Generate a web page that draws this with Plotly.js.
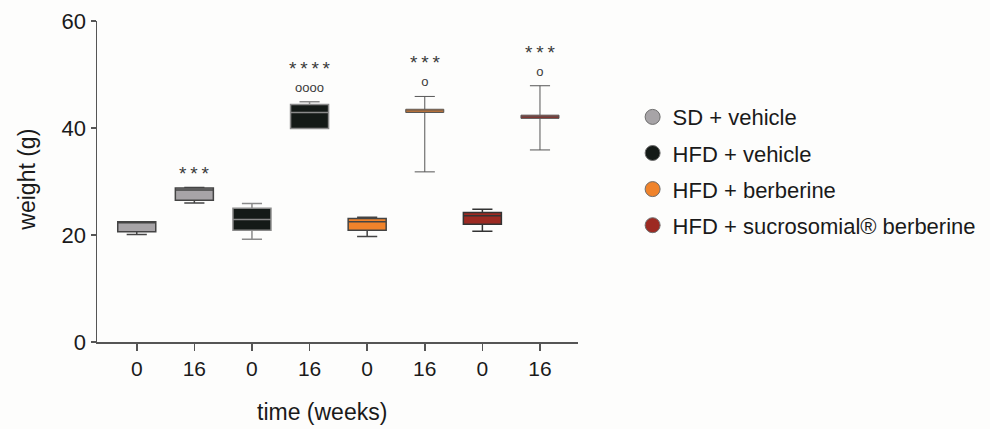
<!DOCTYPE html>
<html>
<head>
<meta charset="utf-8">
<script src="https://cdn.plot.ly/plotly-3.0.1.min.js"></script>
<style>html,body{margin:0;padding:0;background:#fdfdfc;}</style>
</head>
<body>
<div id="chart" style="width:990px;height:429px;"></div>
<script>
// ---- data ----
var groups = ["SD + vehicle", "HFD + vehicle", "HFD + berberine", "HFD + sucrosomial\u00ae berberine"];
var groupColors = ["#a7a4a7", "#141a17", "#f0832b", "#9d2a22"];
var tickLabels = ["0", "16", "0", "16", "0", "16", "0", "16"];
var boxGroup = [0, 0, 1, 1, 2, 2, 3, 3];
var lowerFence = [20.1, 26.0, 19.2, 39.9, 19.7, 31.8, 20.7, 35.9];
var q1Vals     = [20.6, 26.5, 20.9, 39.9, 20.9, 42.9, 22.0, 41.8];
var medianVals = [22.4, 28.4, 22.9, 42.9, 22.5, 43.2, 23.6, 42.1];
var q3Vals     = [22.5, 28.8, 25.0, 44.4, 23.1, 43.5, 24.2, 42.4];
var upperFence = [22.5, 28.9, 25.9, 44.9, 23.3, 45.9, 24.8, 47.9];
var starText = ["", "***", "", "****", "", "***", "", "***"];
var circText = ["", "", "", "oooo", "", "o", "", "o"];
var labelY   = [null, 31.8, null, 49.7, null, 50.8, null, 52.7];

// ---- styles ----
var outline = ["#444444", "#444444", "#8a8a8a", "#8a8a8a", "#444444", "#555555", "#333333", "#555555"];
var outlineW = [1.5, 1.5, 1.5, 1.5, 1.5, 1, 1.5, 1];
var FONT = "Liberation Sans, Arial, sans-serif";

var traces = [];
for (var i = 0; i < tickLabels.length; i++) {
  traces.push({
    type: "box",
    x: [i],
    q1: [q1Vals[i]], median: [medianVals[i]], q3: [q3Vals[i]],
    lowerfence: [lowerFence[i]], upperfence: [upperFence[i]],
    width: 0.66, whiskerwidth: 0.53,
    fillcolor: groupColors[boxGroup[i]],
    line: {color: outline[i], width: outlineW[i]},
    boxpoints: false,
    showlegend: false,
    hoverinfo: "skip"
  });
}
for (var g = 0; g < groups.length; g++) {
  traces.push({
    type: "scatter", mode: "markers",
    x: [null], y: [null],
    name: groups[g], legendgroup: "g" + g,
    marker: {symbol: "circle", size: 15, color: groupColors[g], line: {color: "#6e6e6e", width: 1}},
    showlegend: true, hoverinfo: "skip"
  });
}

var annotations = [];
for (var j = 0; j < tickLabels.length; j++) {
  if (!starText[j]) continue;
  var stars = starText[j].split("").join("\u2009");
  var txt = "<span style='font-size:19px'>" + stars + "</span>";
  if (circText[j]) txt += "<br><span style='font-size:13px'>" + circText[j] + "</span>";
  annotations.push({
    x: j, y: labelY[j], xref: "x", yref: "y", text: txt, showarrow: false,
    yanchor: "middle", yshift: circText[j] ? 0 : -2,
    font: {family: FONT, size: 13, color: "#3a3a3a"}
  });
}
annotations.push({
  text: "weight (g)", xref: "paper", yref: "paper", x: -0.146, y: 0.505,
  xanchor: "center", yanchor: "middle", textangle: -90, showarrow: false,
  font: {family: FONT, size: 23, color: "#1a1a1a"}
});
annotations.push({
  text: "time (weeks)", xref: "paper", yref: "paper", x: 0.467, y: -0.218,
  xanchor: "center", yanchor: "middle", showarrow: false,
  font: {family: FONT, size: 23, color: "#1a1a1a"}
});

var layout = {
  width: 990, height: 429,
  margin: {l: 97, r: 412, t: 21, b: 87, autoexpand: false},
  paper_bgcolor: "#fdfdfc", plot_bgcolor: "#fdfdfc",
  font: {family: FONT, size: 18, color: "#1a1a1a"},
  showlegend: true,
  legend: {
    xref: "container", yref: "container",
    x: 0.639, y: 0.776, xanchor: "left", yanchor: "top",
    font: {size: 22, color: "#1a1a1a"}, tracegroupgap: 4.5,
    bgcolor: "rgba(0,0,0,0)"
  },
  xaxis: {
    range: [-0.69, 7.66], tickvals: [0,1,2,3,4,5,6,7], ticktext: tickLabels,
    showgrid: false, zeroline: false, showline: true, linecolor: "#555", linewidth: 1.5,
    ticks: "outside", ticklen: 7, tickwidth: 1.5, tickcolor: "#555",
    tickfont: {size: 21, color: "#1a1a1a"}
  },
  yaxis: {
    range: [0, 60], tickvals: [0, 20, 40, 60],
    showgrid: false, zeroline: false, showline: true, linecolor: "#555", linewidth: 1.5,
    ticks: "outside", ticklen: 5, tickwidth: 1.5, tickcolor: "#555",
    tickfont: {size: 22, color: "#1a1a1a"}
  },
  annotations: annotations
};

Plotly.newPlot("chart", traces, layout, {displayModeBar: false, staticPlot: true});
</script>
</body>
</html>
